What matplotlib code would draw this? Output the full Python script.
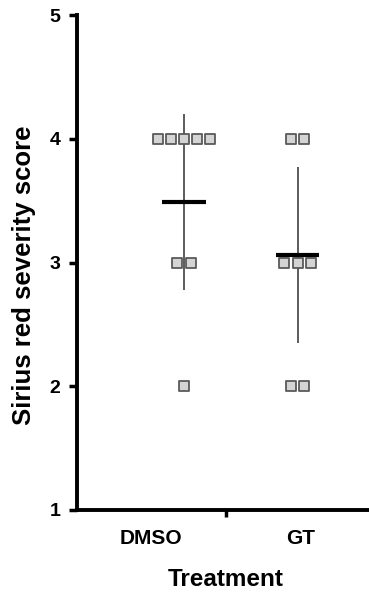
import numpy as np
import matplotlib.pyplot as plt
from collections import Counter

plt.rcParams['font.family'] = ['Liberation Sans', 'DejaVu Sans']

# scores per animal
groups = ["DMSO", "GT"]
dmso_scores = [4, 4, 4, 4, 4, 3, 3, 2]
gt_scores = [4, 4, 3, 3, 3, 2, 2]
# mean and SD as drawn
means = [3.49, 3.06]
sds = [0.71, 0.71]
yticks = [1, 2, 3, 4, 5]

fig = plt.figure(figsize=(3.69, 5.95), dpi=100)
ax = fig.add_axes([77 / 369, 85 / 595, 1 - 77 / 369, 495 / 595])

step = 0.115
for gx, scores in enumerate([dmso_scores, gt_scores]):
    counts = Counter(scores)
    xs, ys = [], []
    for val, n in counts.items():
        offs = (np.arange(n) - (n - 1) / 2) * step
        xs.extend(gx + offs)
        ys.extend([val] * n)
    ax.errorbar(gx, means[gx], yerr=sds[gx], fmt='none', ecolor='#303030',
                elinewidth=1.1, capsize=0, zorder=2)
    ax.scatter(xs, ys, marker='s', s=42, facecolor='#d4d4d4',
               edgecolor='#5a5a5a', linewidth=1.3, zorder=3)
    ax.plot([gx - 0.19, gx + 0.19], [means[gx]] * 2, color='black',
            lw=3.0, solid_capstyle='butt', zorder=4)

ax.set_xlim(-0.943, 1.63)
ax.set_ylim(1, 5)
ax.set_yticks(yticks)
ax.set_yticklabels([str(t) for t in yticks], fontsize=14, fontweight='bold')
ax.set_xticks([-0.29, 1.03])
ax.set_xticklabels(groups, fontsize=15, fontweight='bold')
ax.tick_params(axis='x', length=0, pad=14)
ax.tick_params(axis='y', length=6, width=2.5, pad=6)
ax.set_xticks([0.37], minor=True)
ax.tick_params(axis='x', which='minor', length=5, width=2.5)

for side in ['top', 'right']:
    ax.spines[side].set_visible(False)
for side in ['left', 'bottom']:
    ax.spines[side].set_linewidth(2.8)

fig.text(24 / 369, 1 - 275 / 595, "Sirius red severity score", rotation=90,
         ha='center', va='center', fontsize=18.5, fontweight='bold')
fig.text(226 / 369, 1 - 579 / 595, "Treatment", ha='center', va='center',
         fontsize=17.5, fontweight='bold')

fig.savefig("out.png", dpi=100)
